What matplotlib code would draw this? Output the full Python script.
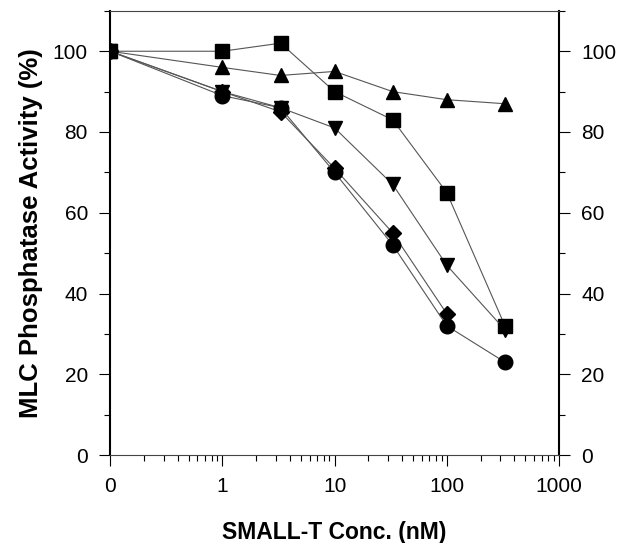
import matplotlib
matplotlib.use("Agg")
import matplotlib.pyplot as plt
from matplotlib.ticker import FixedLocator, LogLocator, NullFormatter, MultipleLocator

plt.rcParams["font.family"] = ["Liberation Sans", "DejaVu Sans"]

# concentrations (nM); 0 is drawn one decade below 1
conc = [0, 1, 3.3, 10, 33, 100, 330]
squares = [100, 100, 102, 90, 83, 65, 32]
triangles_up = [100, 96, 94, 95, 90, 88, 87]
triangles_down = [100, 90, 86, 81, 67, 47, 31]
diamonds = [100, 90, 85, 71, 55, 35]
circles = [100, 89, 86, 70, 52, 32, 23]

x_ticks = [0.1, 1, 10, 100, 1000]
x_ticklabels = ["0", "1", "10", "100", "1000"]


def xpos(values):
    return [v if v > 0 else 0.1 for v in values]


fig = plt.figure(figsize=(6.19, 5.43), dpi=100)
ax = fig.add_axes([0.178, 0.162, 0.725, 0.818])

series = [
    (squares, "s", 9.5),
    (triangles_up, "^", 9.5),
    (triangles_down, "v", 9.5),
    (diamonds, "D", 8),
    (circles, "o", 10.5),
]
for vals, m, ms in series:
    xs = xpos(conc[:len(vals)])
    ax.plot(xs, vals, color="#555555", lw=0.8, marker=m, ms=ms,
            mfc="black", mec="black", zorder=3)

ax.set_xscale("log")
ax.set_xlim(0.1, 1000)
ax.set_ylim(0, 110)

ax.xaxis.set_major_locator(FixedLocator(x_ticks))
ax.set_xticklabels(x_ticklabels)
ax.xaxis.set_minor_locator(LogLocator(base=10, subs=range(2, 10), numticks=20))
ax.xaxis.set_minor_formatter(NullFormatter())

ax.yaxis.set_major_locator(MultipleLocator(20))
ax.yaxis.set_minor_locator(MultipleLocator(10))

ax.tick_params(axis="both", which="major", direction="out", length=8,
               width=0.8, labelsize=15, pad=8, colors="black")
ax.tick_params(axis="both", which="minor", direction="out", length=4, width=0.8)
ax.tick_params(axis="y", which="both", left=True, right=True,
               labelleft=True, labelright=True)
ax.tick_params(axis="x", which="both", top=False)

ax.spines["left"].set_linewidth(1.5)
ax.spines["right"].set_linewidth(1.5)
ax.spines["top"].set_linewidth(0.8)
ax.spines["top"].set_color("#444444")
ax.spines["bottom"].set_linewidth(0.8)
ax.spines["bottom"].set_color("#444444")

ax.set_ylabel("MLC Phosphatase Activity (%)", fontsize=18.5, fontweight="bold",
              labelpad=7)
ax.set_xlabel("SMALL-T Conc. (nM)", fontsize=16.5, fontweight="bold",
              labelpad=18)

fig.savefig("out.png", dpi=100)
